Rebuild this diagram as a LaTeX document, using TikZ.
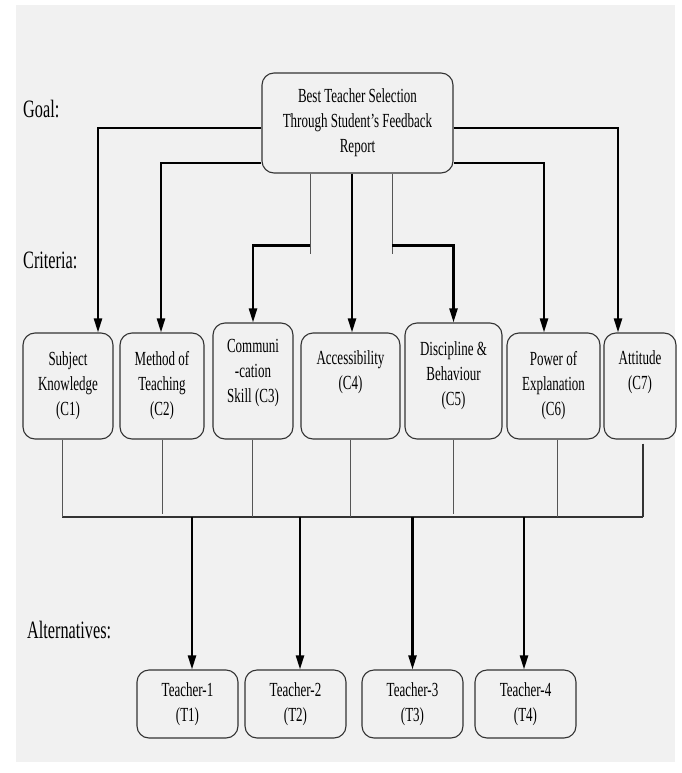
\documentclass[tikz,border=0pt]{standalone}
\usepackage{fontspec}
\setmainfont{Liberation Serif}[FakeStretch=0.65]
\usetikzlibrary{arrows.meta}
\definecolor{bgc}{HTML}{F1F1F1}
\definecolor{boxc}{HTML}{333333}
\definecolor{linec}{HTML}{555555}
\begin{document}
\begin{tikzpicture}[x=1pt,y=-1pt,
  box/.style={draw=boxc, line width=1.1pt, rounded corners=12pt, inner sep=0pt, align=center,
              font=\fontsize{20}{25}\selectfont},
  txt/.style={align=center, inner sep=0pt, font=\fontsize{20}{25}\selectfont},
  lbl/.style={anchor=west, inner sep=0pt, font=\fontsize{25}{30}\selectfont},
  arr/.style={line width=2.2pt, -{Triangle[length=14pt,width=8pt]}},
  thn/.style={line width=1pt, draw=linec}]
\useasboundingbox (0,0) rectangle (681,773);
\fill[bgc] (16,5) rectangle (675,762);

% level labels
\node[lbl] (lgoal) at (23,109) {Goal:};
\node[lbl] (lcrit) at (23,260) {Criteria:};
\node[lbl] (lalt) at (27,630) {Alternatives:};

% goal
\node[box, minimum width=191pt, minimum height=100pt] (goal) at (357.5,123)
  {Best Teacher Selection\\Through Student’s Feedback\\Report};

% criteria
\node[box, minimum width=90pt, minimum height=106pt] (c1) at (68,386) {Subject\\Knowledge\\(C1)};
\node[box, minimum width=84pt, minimum height=106pt] (c2) at (162,386) {Method of\\Teaching\\(C2)};
\node[box, minimum width=80pt, minimum height=116pt] (c3) at (253,381) {};
\node[txt] (c3t) at (253,373.5) {Communi\\-cation\\Skill (C3)};
\node[box, minimum width=99pt, minimum height=106pt] (c4) at (350.5,386) {};
\node[txt] (c4t) at (350.5,372.5) {Accessibility\\(C4)};
\node[box, minimum width=97pt, minimum height=116pt] (c5) at (453.5,381) {};
\node[txt] (c5t) at (453.5,376) {Discipline \&\\Behaviour\\(C5)};
\node[box, minimum width=93pt, minimum height=106pt] (c6) at (553.5,386) {Power of\\Explanation\\(C6)};
\node[box, minimum width=72pt, minimum height=106pt] (c7) at (640,386) {};
\node[txt] (c7t) at (640,372.5) {Attitude\\(C7)};

% alternatives
\node[box, minimum width=101pt, minimum height=68pt] (t1) at (187.5,704) {Teacher-1\\(T1)};
\node[box, minimum width=101pt, minimum height=68pt] (t2) at (295.5,704) {Teacher-2\\(T2)};
\node[box, minimum width=101pt, minimum height=68pt] (t3) at (412.5,704) {Teacher-3\\(T3)};
\node[box, minimum width=101pt, minimum height=68pt] (t4) at (525.5,704) {Teacher-4\\(T4)};

% goal -> criteria
\draw[arr] ([yshift=-5pt]goal.west) -| ([xshift=30pt]c1.north);
\draw[arr] ([yshift=-40pt]goal.west) -| ([xshift=-1pt]c2.north);
\draw[thn] ([xshift=-47.5pt]goal.south) -- ++(0,80);
\coordinate (j3) at ([xshift=-47.5pt,yshift=-72pt]goal.south);
\draw[arr] (j3) -| (c3.north);
\draw[arr] ([xshift=-5.5pt]goal.south) -- ([xshift=1.5pt]c4.north);
\draw[thn] ([xshift=34.5pt]goal.south) -- ++(0,80);
\coordinate (j5) at ([xshift=34.5pt,yshift=-72pt]goal.south);
\draw[arr] (j5) -| (c5.north);
\draw[arr] ([yshift=-40pt]goal.east) -| ([xshift=-9.5pt]c6.north);
\draw[arr] ([yshift=-5pt]goal.east) -| ([xshift=-22pt]c7.north);

% criteria -> bus
\coordinate (busL) at (62,517);
\coordinate (busR) at (643,517);
\draw[line width=1.8pt, draw=boxc] (busL) -- (busR);
\draw[thn] ([xshift=-6pt]c1.south) -- (busL);
\draw[thn] (c2.south) -- ++(0,74);
\draw[thn] ([xshift=-1pt]c3.south) -- ([xshift=-1pt]c3.south |- busL);
\draw[thn] (c4.south) -- (c4.south |- busL);
\draw[thn] (c5.south) -- ++(0,74);
\draw[thn] ([xshift=3.5pt]c6.south) -- ([xshift=3.5pt]c6.south |- busL);
\draw[line width=1.2pt, draw=boxc] ([xshift=3pt,yshift=-4pt]c7.south) -- (busR);

% bus -> alternatives
\draw[arr] ([xshift=4.5pt]t1.north |- busL) -- ([xshift=4.5pt]t1.north);
\draw[arr] ([xshift=4.5pt]t2.north |- busL) -- ([xshift=4.5pt]t2.north);
\draw[arr] (t3.north |- busL) -- (t3.north);
\draw[arr] ([xshift=-1.5pt]t4.north |- busL) -- ([xshift=-1.5pt]t4.north);
\end{tikzpicture}
\end{document}
